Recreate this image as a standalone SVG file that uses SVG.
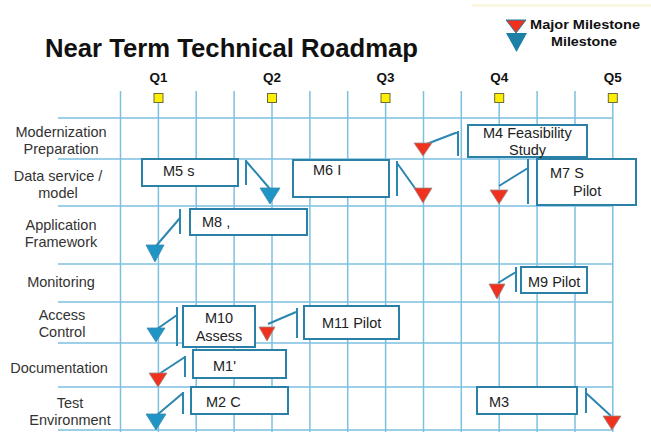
<svg xmlns="http://www.w3.org/2000/svg" width="651" height="437" viewBox="0 0 651 437">
<style>
.grid line{stroke:#7cc0e0;stroke-width:1.5}
.lbl{font-family:"Liberation Sans",Arial,sans-serif;font-size:14.5px;fill:#333;text-anchor:middle}
.bt{font-family:"Liberation Sans",Arial,sans-serif;font-size:14.5px;fill:#222}
.q{font-family:"Liberation Sans",Arial,sans-serif;font-size:13.5px;font-weight:bold;fill:#111;text-anchor:middle}
.box{fill:#fff;stroke:#2b80a8;stroke-width:2}
.co{stroke:#2b86b0;stroke-width:2;fill:none}
.red{fill:#f0311e;stroke:#9a8a88;stroke-width:0.8}
.blue{fill:#1f95c6;stroke:#3a8aae;stroke-width:0.8}
.ys{fill:#ffee00;stroke:#6b6b3a;stroke-width:1}
</style>
<rect width="651" height="437" fill="#fff"/>
<line x1="472" y1="5.5" x2="651" y2="5.5" stroke="#fbf3d6" stroke-width="2"/>
<text x="45" y="57" font-family="Liberation Sans,Arial,sans-serif" font-size="25.5" font-weight="bold" fill="#111" textLength="373" lengthAdjust="spacingAndGlyphs">Near Term Technical Roadmap</text>
<g id="legend">
<path d="M506,20 L526,20 L516,33 Z" fill="#f0311e" stroke="#1b7fa6" stroke-width="1"/>
<path d="M506,33 L527,33 L516.5,52 Z" fill="#1b7fa6"/>
<text x="530" y="28.5" font-family="Liberation Sans,Arial,sans-serif" font-size="13.5" font-weight="bold" fill="#111" textLength="110" lengthAdjust="spacingAndGlyphs">Major Milestone</text>
<text x="551" y="46" font-family="Liberation Sans,Arial,sans-serif" font-size="13.5" font-weight="bold" fill="#111" textLength="66" lengthAdjust="spacingAndGlyphs">Milestone</text>
</g>
<g class="grid">
<line x1="120.5" y1="91" x2="120.5" y2="432"/>
<line x1="158.4" y1="100" x2="158.4" y2="432"/>
<line x1="196.2" y1="91" x2="196.2" y2="432"/>
<line x1="234.1" y1="91" x2="234.1" y2="432"/>
<line x1="272" y1="100" x2="272" y2="432"/>
<line x1="309.9" y1="91" x2="309.9" y2="432"/>
<line x1="347.7" y1="91" x2="347.7" y2="432"/>
<line x1="385.6" y1="100" x2="385.6" y2="432"/>
<line x1="423.5" y1="91" x2="423.5" y2="432"/>
<line x1="461.3" y1="91" x2="461.3" y2="432"/>
<line x1="499.2" y1="100" x2="499.2" y2="432"/>
<line x1="537.1" y1="91" x2="537.1" y2="432"/>
<line x1="575" y1="91" x2="575" y2="432"/>
<line x1="612.8" y1="100" x2="612.8" y2="432"/>
<line x1="58" y1="118" x2="613" y2="118"/>
<line x1="58" y1="159" x2="613" y2="159"/>
<line x1="58" y1="206" x2="613" y2="206"/>
<line x1="58" y1="264" x2="613" y2="264"/>
<line x1="58" y1="302" x2="613" y2="302"/>
<line x1="58" y1="343" x2="613" y2="343"/>
<line x1="58" y1="387" x2="613" y2="387"/>
<line x1="58" y1="430" x2="613" y2="430"/>
</g>
<g id="quarters">
<text class="q" x="158.4" y="82">Q1</text>
<text class="q" x="272" y="82">Q2</text>
<text class="q" x="385.6" y="82">Q3</text>
<text class="q" x="499.2" y="82">Q4</text>
<text class="q" x="612.8" y="82">Q5</text>
<rect class="ys" x="154" y="93.5" width="9" height="9"/>
<rect class="ys" x="267.5" y="93.5" width="9" height="9"/>
<rect class="ys" x="381" y="93.5" width="9" height="9"/>
<rect class="ys" x="494.7" y="93.5" width="9" height="9"/>
<rect class="ys" x="608.3" y="93.5" width="9" height="9"/>
</g>
<g id="rows">
<text class="lbl" x="61" y="137">Modernization</text>
<text class="lbl" x="61" y="154">Preparation</text>
<text class="lbl" x="58" y="181">Data service /</text>
<text class="lbl" x="58" y="198">model</text>
<text class="lbl" x="61" y="230">Application</text>
<text class="lbl" x="61" y="247">Framework</text>
<text class="lbl" x="61" y="287">Monitoring</text>
<text class="lbl" x="62" y="320">Access</text>
<text class="lbl" x="62" y="337">Control</text>
<text class="lbl" x="59" y="373">Documentation</text>
<text class="lbl" x="70" y="408">Test</text>
<text class="lbl" x="70" y="425">Environment</text>
</g>
<g id="connectors">
<path class="co" d="M458,131 V156 M458,132 L424,145"/>
<path class="co" d="M246,160 V185 M246,161 L270,189"/>
<path class="co" d="M397,161 V196 M397,163 L422,198"/>
<path class="co" d="M528,159 V204 M528,168 L499,186"/>
<path class="co" d="M180,209 V234 M180,218 L156,246"/>
<path class="co" d="M516,267 V292 M516,272 L498,283"/>
<path class="co" d="M177,307 V346 M177,315 L157,329"/>
<path class="co" d="M297,308 V338 M296,312 L268,324"/>
<path class="co" d="M185,356 V377 M185,357 L159,374"/>
<path class="co" d="M183,392 V414 M183,393 L157,415"/>
<path class="co" d="M586,388 V413 M586,393 L611,416"/>
</g>
<g id="milestones">
<path class="red" d="M414,143 L432,143 L423,156 Z"/>
<path class="blue" d="M260,188 L280,188 L270,204 Z"/>
<path class="red" d="M414,188 L432,188 L423,203 Z"/>
<path class="red" d="M490,190 L508,190 L499,204 Z"/>
<path class="blue" d="M146,245 L164,245 L155,262 Z"/>
<path class="red" d="M489,284 L505,284 L497,299 Z"/>
<path class="blue" d="M147,328 L165,328 L156,342 Z"/>
<path class="red" d="M259,327 L275,327 L267,341 Z"/>
<path class="red" d="M149,373 L167,373 L158,387 Z"/>
<path class="blue" d="M146,414 L166,414 L156,430 Z"/>
<path class="red" d="M603,416 L621,416 L612,430 Z"/>
</g>
<g id="m4"><rect class="box" x="468" y="125" width="119" height="32"/><text class="bt" x="483" y="138">M4 Feasibility</text><text class="bt" x="509" y="155">Study</text></g>
<g id="m5"><rect class="box" x="142" y="159" width="96" height="27"/><text class="bt" x="163" y="176">M5 s</text></g>
<g id="m6"><rect class="box" x="293" y="160" width="96" height="37"/><text class="bt" x="313" y="175">M6 I</text></g>
<g id="m7"><rect class="box" x="537" y="159" width="99" height="46"/><text class="bt" x="550" y="178">M7 S</text><text class="bt" x="573" y="196">Pilot</text></g>
<g id="m8"><rect class="box" x="190" y="209" width="117" height="26"/><text class="bt" x="202" y="227">M8 ,</text></g>
<g id="m9"><rect class="box" x="521" y="267" width="66" height="26"/><text class="bt" x="528" y="287">M9 Pilot</text></g>
<g id="m10"><rect class="box" x="183" y="306" width="72" height="41"/><text class="bt" x="219" y="323" text-anchor="middle">M10</text><text class="bt" x="219" y="341" text-anchor="middle">Assess</text></g>
<g id="m11"><rect class="box" x="304" y="306" width="95" height="33"/><text class="bt" x="322" y="328">M11 Pilot</text></g>
<g id="m1"><rect class="box" x="193" y="350" width="93" height="28"/><text class="bt" x="213" y="371">M1'</text></g>
<g id="m2"><rect class="box" x="191" y="387" width="97" height="27"/><text class="bt" x="206" y="407">M2 C</text></g>
<g id="m3"><rect class="box" x="477" y="387" width="100" height="27"/><text class="bt" x="489" y="407">M3</text></g>
</svg>
